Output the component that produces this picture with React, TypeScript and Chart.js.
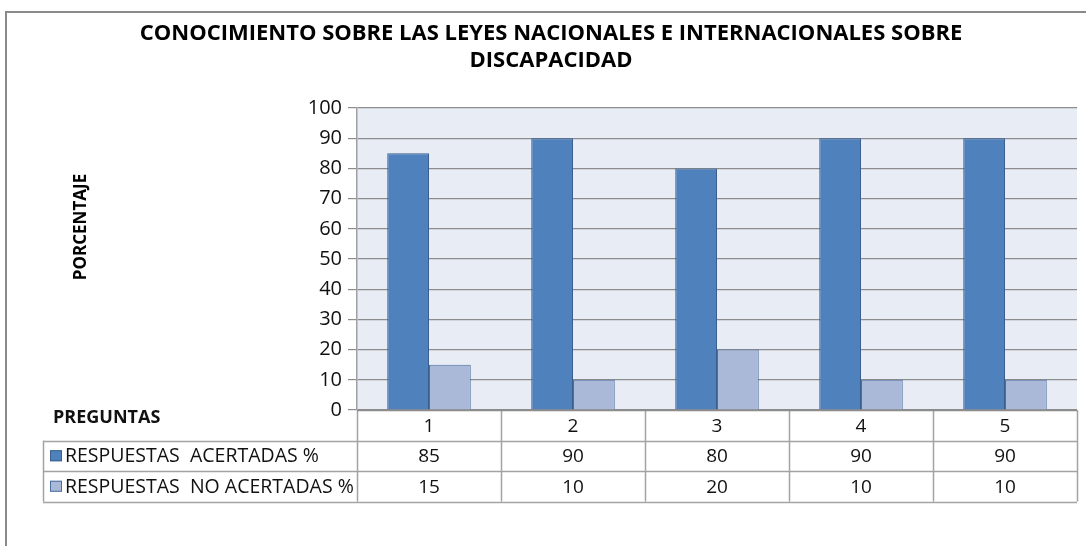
import { useEffect, useRef } from "react";
import { Chart, registerables } from "chart.js";

Chart.register(...registerables);

const TITLE_LINES = [
  "CONOCIMIENTO SOBRE LAS LEYES NACIONALES E INTERNACIONALES SOBRE",
  "DISCAPACIDAD",
];
const Y_TITLE = "PORCENTAJE";
const X_TITLE = "PREGUNTAS";
const CATEGORIES = ["1", "2", "3", "4", "5"];
const SERIES_NAMES = ["RESPUESTAS  ACERTADAS %", "RESPUESTAS  NO ACERTADAS %"];
const ACERTADAS = [85, 90, 80, 90, 90];
const NO_ACERTADAS = [15, 10, 20, 10, 10];
const Y_MIN = 0;
const Y_MAX = 100;
const Y_STEP = 10;

const FONT = "'Open Sans', 'Liberation Sans', sans-serif";
const COLORS = ["#4F81BD", "#AAB9D7"];
const BORDERS = ["#3A5F8E", "#4A6E9E"];
const PLOT_BG = "#E8ECF4";

const decorPlugin = {
  id: "decor",
  beforeDraw(chart: any) {
    const { ctx, chartArea, width, height } = chart;
    ctx.save();
    ctx.fillStyle = "#ffffff";
    ctx.fillRect(0, 0, width, height);
    // outer frame
    ctx.strokeStyle = "#8a8a8a";
    ctx.lineWidth = 2;
    ctx.beginPath();
    ctx.moveTo(6, height + 2);
    ctx.lineTo(6, 12);
    ctx.lineTo(width + 2, 12);
    ctx.stroke();
    // plot background
    ctx.fillStyle = PLOT_BG;
    ctx.fillRect(chartArea.left, chartArea.top, chartArea.right - chartArea.left, chartArea.bottom - chartArea.top);
    ctx.restore();
  },
  afterDraw(chart: any) {
    const { ctx, chartArea } = chart;
    const xs = chart.scales.x;
    ctx.save();
    // title
    ctx.fillStyle = "#000";
    ctx.textAlign = "center";
    ctx.textBaseline = "middle";
    ctx.font = `bold 22px ${FONT}`;
    const cx = 551;
    ctx.fillText(TITLE_LINES[0], cx, 34);
    ctx.fillText(TITLE_LINES[1], cx, 61);
    // y title
    ctx.save();
    ctx.translate(81, 227);
    ctx.rotate(-Math.PI / 2);
    ctx.font = `bold 17px ${FONT}`;
    ctx.fillText(Y_TITLE, 0, 0);
    ctx.restore();

    // table
    const n = CATEGORIES.length;
    const left = chartArea.left;
    const right = chartArea.right;
    const colW = (right - left) / n;
    const top = chartArea.bottom;
    const rowH = 30.5;
    const tableLeft = 43;
    ctx.strokeStyle = "#a3a3a3";
    ctx.lineWidth = 1.5;
    ctx.beginPath();
    for (let r = 1; r <= 3; r++) {
      const y = Math.round(top + r * rowH) + 0.5;
      ctx.moveTo(tableLeft, y);
      ctx.lineTo(right, y);
    }
    for (let i = 0; i <= n; i++) {
      const x = Math.round(left + i * colW) + 0.5;
      ctx.moveTo(x, top);
      ctx.lineTo(x, top + 3 * rowH);
    }
    ctx.moveTo(tableLeft + 0.5, top + rowH);
    ctx.lineTo(tableLeft + 0.5, top + 3 * rowH);
    ctx.stroke();
    // axis line
    ctx.strokeStyle = "#8c8c8c";
    ctx.lineWidth = 1.5;
    ctx.beginPath();
    ctx.moveTo(left, top + 0.5);
    ctx.lineTo(right, top + 0.5);
    ctx.stroke();

    ctx.fillStyle = "#111";
    ctx.font = `19px ${FONT}`;
    ctx.textAlign = "center";
    const rows = [CATEGORIES, ACERTADAS.map(String), NO_ACERTADAS.map(String)];
    rows.forEach((row, r) => {
      row.forEach((t, i) => {
        ctx.fillText(t, xs.getPixelForValue(i), top + r * rowH + rowH / 2 + 1);
      });
    });
    // row labels
    ctx.textAlign = "left";
    ctx.font = `bold 18px ${FONT}`;
    ctx.fillText(X_TITLE, 53, top + 8);
    ctx.font = `19.5px ${FONT}`;
    SERIES_NAMES.forEach((name, s) => {
      const yc = top + (s + 1) * rowH + rowH / 2;
      ctx.fillStyle = COLORS[s];
      ctx.fillRect(50, yc - 5.5, 12, 11);
      ctx.strokeStyle = BORDERS[s];
      ctx.lineWidth = 1;
      ctx.strokeRect(50.5, yc - 5, 11, 10);
      ctx.fillStyle = "#111";
      ctx.fillText(name, 65, yc + 1);
    });
    ctx.restore();
  },
};

export default function App() {
  const ref = useRef<HTMLCanvasElement | null>(null);
  useEffect(() => {
    document.body.style.margin = "0";
    const canvas = ref.current;
    if (!canvas) return;
    const chart = new Chart(canvas, {
      type: "bar",
      data: {
        labels: CATEGORIES,
        datasets: [
          {
            label: SERIES_NAMES[0],
            data: ACERTADAS,
            backgroundColor: COLORS[0],
            borderColor: BORDERS[0],
            borderWidth: 1,
          },
          {
            label: SERIES_NAMES[1],
            data: NO_ACERTADAS,
            backgroundColor: COLORS[1],
            borderColor: BORDERS[1],
            borderWidth: 1,
          },
        ],
      },
      options: {
        animation: false,
        responsive: true,
        maintainAspectRatio: false,
        layout: { padding: { top: 108, bottom: 136, left: 300, right: 9 } },
        datasets: { bar: { categoryPercentage: 0.58, barPercentage: 1 } } as any,
        plugins: {
          legend: { display: false },
          tooltip: { enabled: false },
          title: { display: false },
        },
        scales: {
          x: { display: false },
          y: {
            min: Y_MIN,
            max: Y_MAX,
            afterFit(scale: any) {
              scale.width = 57;
            },
            ticks: {
              stepSize: Y_STEP,
              color: "#111",
              padding: 6,
              font: { family: FONT, size: 20 },
            },
            grid: { color: "#8c8c8c", lineWidth: 1.2, tickLength: 9, drawTicks: true },
            border: { display: true, color: "#a0a0a0", width: 1.5 },
          },
        },
      },
      plugins: [decorPlugin],
    });
    return () => chart.destroy();
  }, []);
  return (
    <div style={{ position: "relative", width: 1086, height: 546 }}>
      <canvas ref={ref} />
    </div>
  );
}
